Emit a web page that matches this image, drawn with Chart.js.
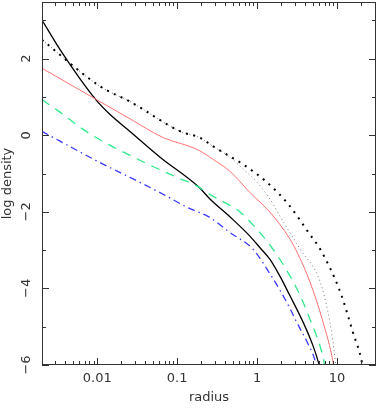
<!DOCTYPE html>
<html lang="en">
<head>
    <meta charset="UTF-8">
    <title>log density vs radius</title>
    <script src="https://cdn.jsdelivr.net/npm/chart.js"></script>
    <style>
        html, body { margin: 0; padding: 0; background: #fff; }
        #wrap { width: 382px; height: 412px; }
    </style>
</head>
<body>
    <div id="wrap"><canvas id="densityChart" width="382" height="412"></canvas></div>
    <script>
        // radius values and log density, one pair of arrays per curve
        const solidR  = [0.00204, 0.00345, 0.00944, 0.0145, 0.0257, 0.0617, 0.188, 0.259, 0.457, 0.818, 1.10, 1.45, 1.95, 2.59, 3.76, 5.01, 5.89, 6.3];
        const solidV  = [3.01, 2.23, 0.95, 0.54, 0.10, -0.58, -1.36, -1.67, -2.13, -2.64, -2.95, -3.24, -3.70, -4.20, -4.88, -5.50, -5.95, -6.2];

        const redR    = [0.00204, 0.00944, 0.0257, 0.0668, 0.178, 0.282, 0.457, 0.818, 1.45, 2.59, 3.24, 4.60, 6.68, 8.91, 9.33];
        const redV    = [1.75, 0.95, 0.43, -0.06, -0.37, -0.63, -0.94, -1.50, -2.01, -2.72, -3.10, -3.84, -4.88, -5.92, -6.2];

        const greenR  = [0.00204, 0.00328, 0.00778, 0.0347, 0.1, 0.178, 0.259, 0.501, 0.617, 0.944, 1.33, 1.82, 3.16, 4.57, 6.76, 7.24];
        const greenV  = [0.93, 0.63, 0.06, -0.66, -1.10, -1.33, -1.55, -1.88, -2.01, -2.40, -2.77, -3.16, -4.02, -4.80, -5.84, -6.2];

        const blueR   = [0.00204, 0.00347, 0.011, 0.0257, 0.0668, 0.133, 0.257, 0.457, 0.891, 1.45, 1.95, 2.57, 3.16, 4.22, 5.25, 5.75];
        const blueV   = [0.10, -0.16, -0.72, -1.10, -1.54, -1.88, -2.15, -2.54, -2.98, -3.62, -4.06, -4.52, -4.90, -5.40, -5.85, -6.2];

        const thickR  = [0.00204, 0.011, 0.0257, 0.110, 0.195, 0.282, 0.457, 0.668, 1.33, 2.45, 4.57, 6.17, 11.0, 15.8, 20.4, 21.4];
        const thickV  = [2.49, 1.27, 0.88, 0.10, -0.07, -0.29, -0.55, -0.76, -1.23, -1.80, -2.59, -2.98, -4.10, -5.15, -5.92, -6.2];

        const fineR   = [0.00204, 0.011, 0.0257, 0.110, 0.195, 0.282, 0.457, 0.668, 1.0, 1.45, 2.11, 3.47, 6.17, 8.13, 9.44, 9.8];
        const fineV   = [2.49, 1.27, 0.88, 0.10, -0.07, -0.29, -0.57, -0.88, -1.23, -1.67, -2.25, -2.98, -3.84, -4.88, -5.84, -6.2];

        // axis ranges and tick values
        const xMin = 0.00204, xMax = 30.7;
        const yMin = -6, yMax = 3.48;
        const xLabelTicks = [0.01, 0.1, 1, 10];
        const xMinorTicks = [0.003, 0.004, 0.005, 0.006, 0.007, 0.008, 0.009,
                             0.02, 0.03, 0.04, 0.05, 0.06, 0.07, 0.08, 0.09,
                             0.2, 0.3, 0.4, 0.5, 0.6, 0.7, 0.8, 0.9,
                             2, 3, 4, 5, 6, 7, 8, 9, 20, 30];
        const yLabelTicks = [-6, -4, -2, 0, 2];
        const yMinorTicks = [-5, -3, -1, 1, 3];

        function pairs(rs, vs) {
            return rs.map((r, i) => ({ x: r, y: vs[i] }));
        }

        function xLabel(v) {
            if (v >= 1) return String(v);
            return v.toFixed(Math.round(-Math.log10(v)));
        }

        // box round the plot plus inward ticks on all four sides
        const frameTicks = {
            id: 'frameTicks',
            afterDraw(chart) {
                const { ctx, chartArea: a, scales: { x, y } } = chart;
                ctx.save();
                ctx.strokeStyle = '#333';
                ctx.lineWidth = 1;
                ctx.strokeRect(a.left + 0.5, a.top + 0.5, a.right - a.left - 1, a.bottom - a.top - 1);
                ctx.beginPath();
                const xTick = (v, len) => {
                    const px = Math.round(x.getPixelForValue(v)) + 0.5;
                    ctx.moveTo(px, a.bottom); ctx.lineTo(px, a.bottom - len);
                    ctx.moveTo(px, a.top); ctx.lineTo(px, a.top + len);
                };
                const yTick = (v, len) => {
                    const py = Math.round(y.getPixelForValue(v)) + 0.5;
                    ctx.moveTo(a.left, py); ctx.lineTo(a.left + len, py);
                    ctx.moveTo(a.right, py); ctx.lineTo(a.right - len, py);
                };
                xLabelTicks.forEach(v => xTick(v, 7));
                xMinorTicks.forEach(v => xTick(v, 4));
                yLabelTicks.forEach(v => yTick(v, 7));
                yMinorTicks.forEach(v => yTick(v, 4));
                ctx.stroke();
                ctx.restore();
            }
        };

        const font = { family: 'DejaVu Sans', size: 13 };

        new Chart(document.getElementById('densityChart'), {
            type: 'line',
            data: {
                datasets: [
                    { data: pairs(thickR, thickV), borderColor: '#000', borderWidth: 2, borderDash: [2, 5.5] },
                    { data: pairs(fineR, fineV), borderColor: '#777', borderWidth: 1, borderDash: [1, 3] },
                    { data: pairs(redR, redV), borderColor: '#ff7373', borderWidth: 1 },
                    { data: pairs(greenR, greenV), borderColor: '#2eea8a', borderWidth: 1.3, borderDash: [9, 7] },
                    { data: pairs(blueR, blueV), borderColor: '#3a3aff', borderWidth: 1.3, borderDash: [7, 4, 1.5, 4] },
                    { data: pairs(solidR, solidV), borderColor: '#000', borderWidth: 1.3 }
                ]
            },
            options: {
                responsive: false,
                animation: false,
                events: [],
                layout: { padding: { top: 2, right: 6, left: 0, bottom: 0 } },
                elements: {
                    point: { radius: 0 },
                    line: { cubicInterpolationMode: 'monotone', fill: false }
                },
                plugins: { legend: { display: false }, tooltip: { enabled: false } },
                scales: {
                    x: {
                        type: 'logarithmic',
                        min: xMin,
                        max: xMax,
                        afterBuildTicks: s => { s.ticks = xLabelTicks.map(v => ({ value: v })); },
                        afterFit: s => { s.height = 47; s.paddingLeft = 0; s.paddingRight = 0; },
                        grid: { display: false, drawTicks: false },
                        border: { display: false },
                        ticks: { font: font, color: '#333', padding: 6, maxRotation: 0, autoSkip: false, callback: v => xLabel(v) },
                        title: { display: true, text: 'radius', font: font, color: '#333', padding: { top: 0, bottom: 7 } }
                    },
                    y: {
                        type: 'linear',
                        min: yMin,
                        max: yMax,
                        afterBuildTicks: s => { s.ticks = yLabelTicks.map(v => ({ value: v })); },
                        afterFit: s => { s.width = 42; s.paddingTop = 0; s.paddingBottom = 0; },
                        grid: { display: false, drawTicks: false },
                        border: { display: false },
                        ticks: { font: font, color: '#333', padding: 6, minRotation: 90, maxRotation: 90, autoSkip: false,
                                 crossAlign: 'center',
                                 callback: v => (v < 0 ? '\u2212' + Math.abs(v) : String(v)) },
                        title: { display: true, text: 'log density', font: font, color: '#333', padding: { top: 0, bottom: 2 } }
                    }
                }
            },
            plugins: [frameTicks]
        });
    </script>
</body>
</html>
